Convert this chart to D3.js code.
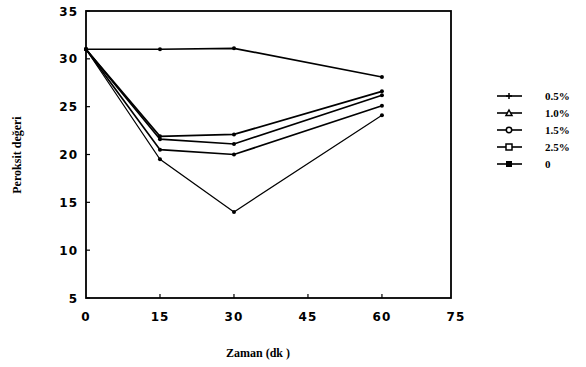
<!DOCTYPE html>
<html>
<head>
<meta charset="utf-8">
<script src="https://cdn.jsdelivr.net/npm/d3@7"></script>
<style>
  body { margin: 0; background: #fff; }
  svg { display: block; }
</style>
</head>
<body>
<div id="chart"></div>
<script>
// time in minutes
const times = [0, 15, 30, 60];

const seriesNames = ['0.5%', '1.0%', '1.5%', '2.5%', '0'];
const seriesSymbols = ['plus', 'triangle', 'circle', 'square', 'filled'];

const values05 = [31, 19.5, 14.0, 24.1];
const values10 = [31, 21.9, 22.1, 26.6];
const values15 = [31, 21.6, 21.1, 26.2];
const values25 = [31, 20.5, 20.0, 25.1];
const values0 = [31, 31.0, 31.1, 28.1];

const xTicks = [0, 15, 30, 45, 60, 75];
const yTicks = [5, 10, 15, 20, 25, 30, 35];

const allValues = [values05, values10, values15, values25, values0];

const width = 586;
const height = 367;
const margin = { top: 11, right: 135, bottom: 69, left: 86 };

const svg = d3.select('#chart')
  .append('svg')
  .attr('width', width)
  .attr('height', height);

const x = d3.scaleLinear()
  .domain([0, 74])
  .range([margin.left, width - margin.right]);

const y = d3.scaleLinear()
  .domain([5, 35])
  .range([height - margin.bottom, margin.top]);

// frame
svg.append('rect')
  .attr('x', x(0))
  .attr('y', y(35))
  .attr('width', x(74) - x(0))
  .attr('height', y(5) - y(35))
  .attr('fill', 'none')
  .attr('stroke', '#000')
  .attr('stroke-width', 1.8);

const tickFont = '"DejaVu Sans", sans-serif';

// x axis ticks and labels
svg.append('g')
  .selectAll('line')
  .data(xTicks.filter(d => d > 0 && d < 74))
  .enter()
  .append('line')
  .attr('x1', d => x(d))
  .attr('x2', d => x(d))
  .attr('y1', y(5))
  .attr('y2', y(5) - 4)
  .attr('stroke', '#000')
  .attr('stroke-width', 1.2);

svg.append('g')
  .selectAll('text')
  .data(xTicks)
  .enter()
  .append('text')
  .attr('x', d => x(d))
  .attr('y', y(5) + 23)
  .attr('text-anchor', 'middle')
  .attr('font-family', tickFont)
  .attr('font-weight', 'bold')
  .attr('font-size', 12)
  .attr('letter-spacing', 1)
  .text(d => d);

// y axis ticks and labels
svg.append('g')
  .selectAll('line')
  .data(yTicks)
  .enter()
  .append('line')
  .attr('x1', x(0))
  .attr('x2', x(0) + 4)
  .attr('y1', d => y(d))
  .attr('y2', d => y(d))
  .attr('stroke', '#000')
  .attr('stroke-width', 1.2);

svg.append('g')
  .selectAll('text')
  .data(yTicks)
  .enter()
  .append('text')
  .attr('x', x(0) - 8)
  .attr('y', d => y(d) + 4.5)
  .attr('text-anchor', 'end')
  .attr('font-family', tickFont)
  .attr('font-weight', 'bold')
  .attr('font-size', 12)
  .attr('letter-spacing', 1)
  .text(d => d);

// axis titles
svg.append('text')
  .attr('x', 258)
  .attr('y', 357)
  .attr('text-anchor', 'middle')
  .attr('font-family', '"Liberation Serif", serif')
  .attr('font-weight', 'bold')
  .attr('font-size', 12)
  .text('Zaman (dk )');

svg.append('text')
  .attr('transform', `translate(21,${155}) rotate(-90)`)
  .attr('text-anchor', 'middle')
  .attr('font-family', '"Liberation Serif", serif')
  .attr('font-weight', 'bold')
  .attr('font-size', 12)
  .text('Peroksit değeri');

const line = d3.line()
  .x((d, i) => x(times[i]))
  .y(d => y(d));

function drawSymbol(g, type, cx, cy, size) {
  const s = size;
  if (type === 'plus') {
    g.append('path')
      .attr('d', `M${cx - s},${cy}H${cx + s}M${cx},${cy - s}V${cy + s}`)
      .attr('stroke', '#000')
      .attr('stroke-width', 1.5);
  } else if (type === 'triangle') {
    g.append('path')
      .attr('d', `M${cx},${cy - s}L${cx + s},${cy + s * 0.8}L${cx - s},${cy + s * 0.8}Z`)
      .attr('fill', '#fff')
      .attr('stroke', '#000')
      .attr('stroke-width', 1.5);
  } else if (type === 'circle') {
    g.append('circle')
      .attr('cx', cx)
      .attr('cy', cy)
      .attr('r', s * 0.9)
      .attr('fill', '#fff')
      .attr('stroke', '#000')
      .attr('stroke-width', 1.5);
  } else if (type === 'square') {
    g.append('rect')
      .attr('x', cx - s)
      .attr('y', cy - s)
      .attr('width', s * 2)
      .attr('height', s * 2)
      .attr('fill', '#fff')
      .attr('stroke', '#000')
      .attr('stroke-width', 1.5);
  } else {
    g.append('rect')
      .attr('x', cx - s)
      .attr('y', cy - s)
      .attr('width', s * 2)
      .attr('height', s * 2)
      .attr('fill', '#000');
  }
}

const plot = svg.append('g');

allValues.forEach((vals, i) => {
  plot.append('path')
    .datum(vals)
    .attr('d', line)
    .attr('fill', 'none')
    .attr('stroke', '#000')
    .attr('stroke-width', i === 0 ? 1.2 : 1.7);

  vals.forEach((v, j) => {
    plot.append('circle')
      .attr('cx', x(times[j]))
      .attr('cy', y(v))
      .attr('r', 2)
      .attr('fill', '#000');
  });
});

// legend
const legend = svg.append('g');
seriesNames.forEach((name, i) => {
  const ly = 96 + i * 17;
  legend.append('line')
    .attr('x1', 497)
    .attr('x2', 522)
    .attr('y1', ly)
    .attr('y2', ly)
    .attr('stroke', '#000')
    .attr('stroke-width', 1.6);
  drawSymbol(legend, seriesSymbols[i], 509, ly, 3);
  legend.append('text')
    .attr('x', 545)
    .attr('y', ly + 4)
    .attr('font-family', '"Liberation Serif", serif')
    .attr('font-weight', 'bold')
    .attr('font-size', 11)
    .text(name);
});
</script>
</body>
</html>
